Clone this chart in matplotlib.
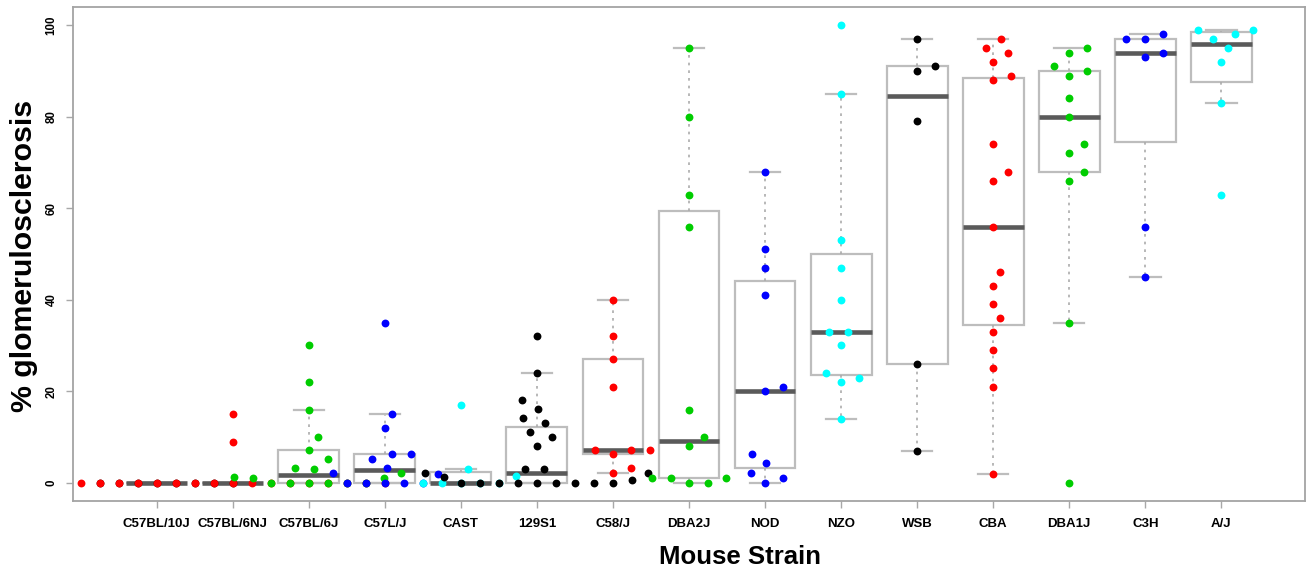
import numpy as np
import matplotlib
matplotlib.use("Agg")
import matplotlib.pyplot as plt

# ---------------- data ----------------
strains = ['C57BL/10J', 'C57BL/6NJ', 'C57BL/6J', 'C57L/J', 'CAST', '129S1', 'C58/J',
           'DBA2J', 'NOD', 'NZO', 'WSB', 'CBA', 'DBA1J', 'C3H', 'A/J']

c57bl10j = [0] * 8
c57bl6nj = [0] * 17 + [9, 15]
c57bl6j = [0] * 6 + [1.0, 1.1, 1.3, 2.2, 3.1, 3.2, 5.2, 7.2, 10, 16, 22, 30]
c57lj = [0] * 5 + [2.0, 2.2, 3.2, 5.2, 6.3, 6.3, 12, 15, 35]
cast = [0] * 5 + [1.5, 3, 17]
s129s1 = [0] * 9 + [0.65, 1.3, 2.2, 2.2, 3, 3, 8.1, 10.1, 11.1, 13.1, 14.1, 16.2, 18.1, 24, 32]
c58j = [2.2, 3.2, 6.3, 7.2, 7.2, 7.2, 21, 27, 32, 40]
dba2j = [0, 0, 1, 1, 1, 8.1, 10, 16, 56, 63, 80, 95]
nod = [0, 1.1, 2.2, 4.2, 6.3, 20.1, 21, 41, 47, 51, 68]
nzo = [14, 22, 23, 24, 30, 33, 33, 40, 47, 53, 85, 100]
wsb = [7, 26, 79, 90, 91, 97]
cba = [2, 21, 25, 29, 33, 36, 39, 43, 46, 56, 66, 68, 74, 88, 89, 92, 94, 95, 97]
dba1j = [0, 35, 66, 68, 72, 74, 80, 84, 89, 90, 91, 94, 95]
c3h = [45, 56, 93, 94, 97, 97, 98]
aj = [63, 83, 92, 95, 97, 98, 99, 99]

groups = [c57bl10j, c57bl6nj, c57bl6j, c57lj, cast, s129s1, c58j,
          dba2j, nod, nzo, wsb, cba, dba1j, c3h, aj]

palette = ['#000000', '#FF0000', '#00CD00', '#0000FF', '#00FFFF']  # R col = 1:5
yticks = [0, 20, 40, 60, 80, 100]

# ---------------- helpers ----------------
def fivenum(x):
    x = np.sort(np.asarray(x, float))
    n = len(x)
    n4 = np.floor((n + 3) / 2) / 2
    d = np.array([1, n4, (n + 1) / 2, n + 1 - n4, n])
    return 0.5 * (x[np.floor(d).astype(int) - 1] + x[np.ceil(d).astype(int) - 1])


def box_stats(x, coef=1.5):
    x = np.asarray(x, float)
    mn, q1, med, q3, mx = fivenum(x)
    iqr = q3 - q1
    lo, hi = q1 - coef * iqr, q3 + coef * iqr
    return dict(med=med, q1=q1, q3=q3,
                whislo=x[x >= lo].min(), whishi=x[x <= hi].max(), fliers=[])


def swarm(vals):
    """R beeswarm 'swarm' method (priority ascending, side 0). vals scaled so
    that 1 = point size along the data axis; returns offsets in point-size units."""
    vals = np.asarray(vals, float)
    order = np.argsort(vals, kind='stable')
    placed = []
    offs = np.zeros(len(vals))
    for idx in order:
        yi = vals[idx]
        pre = [(y, x) for (y, x) in placed if yi - y < 1]
        if not pre:
            xi = 0.0
        else:
            pre.sort(key=lambda p: abs(p[1]))
            o = [np.sqrt(max(0.0, 1 - (yi - y) ** 2)) for (y, x) in pre]
            cands = [0.0] + [p[1] + oo for p, oo in zip(pre, o)] + [p[1] - oo for p, oo in zip(pre, o)]
            best, bestabs = None, np.inf
            for c in cands:
                bad = any((yi - y) ** 2 + (c - x) ** 2 < 0.999 for (y, x) in pre)
                if not bad and abs(c) < bestabs:
                    best, bestabs = c, abs(c)
            xi = best
        placed.append((yi, xi))
        offs[idx] = xi
    return offs


# ---------------- figure ----------------
W, H = 1313, 571
fig = plt.figure(figsize=(W / 100, H / 100), dpi=100)
L, R, T, B = 73, 1305, 7, 501
ax = fig.add_axes([L / W, (H - B) / H, (R - L) / W, (B - T) / H])
ax.set_xlim(-0.1, 16.1)
ax.set_ylim(-4, 104)

positions = np.arange(1, len(strains) + 1)
stats = [box_stats(g) for g in groups]
ax.bxp(stats, positions=positions, widths=0.8, patch_artist=True, showfliers=False,
       capwidths=0.4,
       boxprops=dict(facecolor='white', edgecolor='#BDBDBD', linewidth=1.6),
       medianprops=dict(color='#5A5A5A', linewidth=3.3, solid_capstyle='butt'),
       whiskerprops=dict(color='#ABABAB', linewidth=1.2, linestyle=(0, (1.6, 3.0))),
       capprops=dict(color='#BDBDBD', linewidth=1.6))

# point size in pixels for the swarm layout
p0 = ax.transData.transform((0, 0))
px_x = ax.transData.transform((1, 0))[0] - p0[0]
px_y = ax.transData.transform((0, 1))[1] - p0[1]
gsize_px, dsize_px = 19.0, 14.7

for k, (g, pos) in enumerate(zip(groups, positions)):
    v = np.asarray(g, float)
    offs = swarm(v * px_y / dsize_px) * gsize_px / px_x
    ax.scatter(pos + offs, v, s=32, color=palette[k % 5], linewidths=0, zorder=3)

ax.set_xticks(positions)
ax.set_xticklabels(strains, fontsize=9.5, fontweight='bold', family='Liberation Sans')
ax.set_yticks(yticks)
ax.set_yticklabels([str(t) for t in yticks], rotation=90, va='center',
                   fontsize=8.3, fontweight='bold', family='Liberation Sans')
ax.tick_params(axis='x', length=5, width=1, color='#A8A8A8', pad=7)
ax.tick_params(axis='y', length=5, width=1, color='#A8A8A8', pad=6)
for s in ax.spines.values():
    s.set_color('#A4A4A4')
    s.set_linewidth(1.3)

fig.text(740 / W, 1 - 557 / H, 'Mouse Strain', ha='center', va='center',
         fontsize=18.5, fontweight='bold', family='Liberation Sans')
fig.text(24 / W, 1 - 256 / H, '% glomerulosclerosis', ha='center', va='center',
         rotation=90, fontsize=21.8, fontweight='bold', family='Liberation Sans')

fig.savefig('out.png', dpi=100)
